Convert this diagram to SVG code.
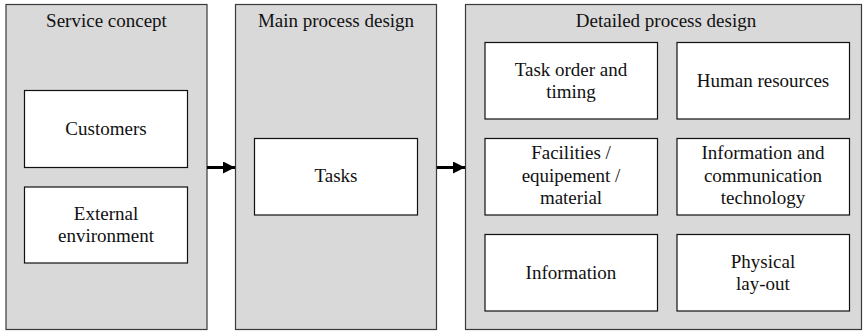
<svg xmlns="http://www.w3.org/2000/svg" width="863" height="331" viewBox="0 0 863 331" font-family="Liberation Serif, serif">
  <defs>
    <marker id="arrow" markerWidth="12" markerHeight="12" refX="12" refY="6" orient="auto" markerUnits="userSpaceOnUse">
      <path d="M0,0 L12,6 L0,12 Z" fill="#000"/>
    </marker>
  </defs>
  <style>
    .panel { fill: #d9d9d9; stroke: #3a3a3a; stroke-width: 1.2; }
    .box { fill: #ffffff; stroke: #111; stroke-width: 1.2; }
    .label { font-size: 19px; fill: #111; text-anchor: middle; }
    .conn { stroke: #000; stroke-width: 3; fill: none; }
  </style>

  <rect width="863" height="331" fill="#fff"/>

  <!-- Stage panels -->
  <g id="service-concept">
    <rect class="panel" x="6" y="4.5" width="201" height="325"/>
    <text class="label" font-family="Liberation Serif" x="106.5" y="27">Service concept</text>
  </g>
  <g id="main-process-design">
    <rect class="panel" x="235.5" y="4.5" width="201" height="325"/>
    <text class="label" font-family="Liberation Serif" x="336" y="27">Main process design</text>
  </g>
  <g id="detailed-process-design">
    <rect class="panel" x="465.5" y="4.5" width="396" height="325"/>
    <text class="label" font-family="Liberation Serif" x="666" y="27">Detailed process design</text>
  </g>

  <!-- Service concept items -->
  <g id="customers">
    <rect class="box" x="24.5" y="90.5" width="163" height="77"/>
    <text class="label" font-family="Liberation Serif" x="106" y="135">Customers</text>
  </g>
  <g id="external-environment">
    <rect class="box" x="24.5" y="187" width="163" height="76"/>
    <text class="label" font-family="Liberation Serif" x="106" y="220">External</text>
    <text class="label" font-family="Liberation Serif" x="106" y="242">environment</text>
  </g>

  <!-- Main process design item -->
  <g id="tasks">
    <rect class="box" x="254.5" y="138.5" width="163" height="76.5"/>
    <text class="label" font-family="Liberation Serif" x="336" y="182">Tasks</text>
  </g>

  <!-- Detailed process design items -->
  <g id="task-order">
    <rect class="box" x="485" y="42.5" width="172.5" height="76.5"/>
    <text class="label" font-family="Liberation Serif" x="571" y="76">Task order and</text>
    <text class="label" font-family="Liberation Serif" x="571" y="98">timing</text>
  </g>
  <g id="human-resources">
    <rect class="box" x="677" y="42.5" width="172.5" height="76.5"/>
    <text class="label" font-family="Liberation Serif" x="763" y="87">Human resources</text>
  </g>
  <g id="facilities">
    <rect class="box" x="485" y="138.5" width="172.5" height="76.5"/>
    <text class="label" font-family="Liberation Serif" x="571" y="159">Facilities /</text>
    <text class="label" font-family="Liberation Serif" x="571" y="181.5">equipement /</text>
    <text class="label" font-family="Liberation Serif" x="571" y="204">material</text>
  </g>
  <g id="ict">
    <rect class="box" x="677" y="138.5" width="172.5" height="76.5"/>
    <text class="label" font-family="Liberation Serif" x="763" y="159">Information and</text>
    <text class="label" font-family="Liberation Serif" x="763" y="181.5">communication</text>
    <text class="label" font-family="Liberation Serif" x="763" y="204">technology</text>
  </g>
  <g id="information">
    <rect class="box" x="485" y="234.5" width="172.5" height="76.5"/>
    <text class="label" font-family="Liberation Serif" x="571" y="279">Information</text>
  </g>
  <g id="physical-layout">
    <rect class="box" x="677" y="234.5" width="172.5" height="76.5"/>
    <text class="label" font-family="Liberation Serif" x="763" y="268">Physical</text>
    <text class="label" font-family="Liberation Serif" x="763" y="290">lay-out</text>
  </g>

  <!-- Stage connectors -->
  <g id="connectors">
    <line class="conn" x1="207" y1="167.5" x2="235" y2="167.5" marker-end="url(#arrow)"/>
    <line class="conn" x1="437" y1="167.5" x2="465" y2="167.5" marker-end="url(#arrow)"/>
  </g>
</svg>
